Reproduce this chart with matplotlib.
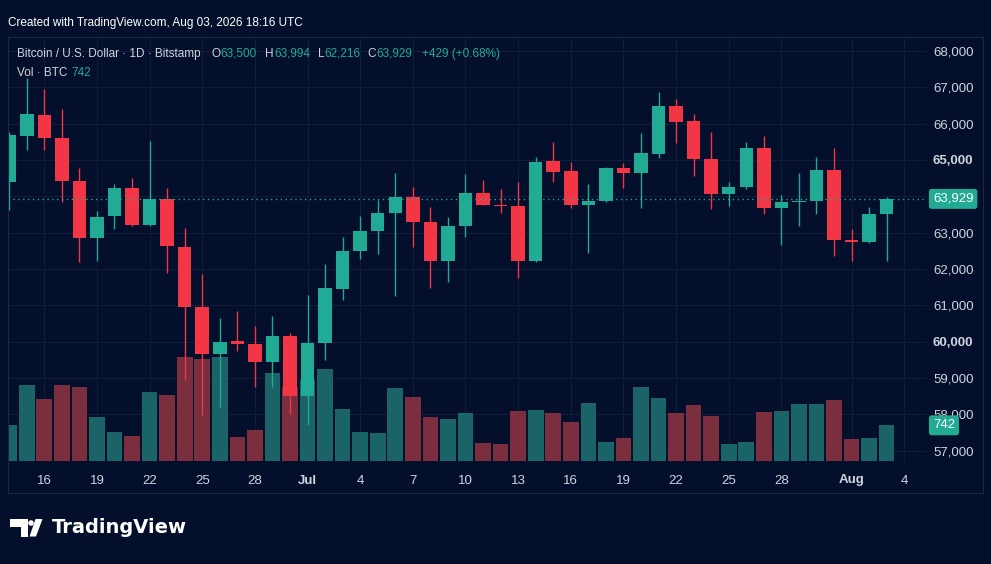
import matplotlib.pyplot as plt
import matplotlib.patches as mpatches
import matplotlib.transforms as mtransforms
import numpy as np
import pandas as pd

# daily candles, Jun 14 - Aug 3 2026
dates = pd.date_range('2026-06-14', '2026-08-03', freq='D')
opens = [64400, 65670, 66250, 65600, 64430, 62840, 63450, 64230, 63210, 63930,
         62610, 60950, 59660, 60020, 59930, 59430, 60160, 58500, 59950, 61460,
         62500, 63050, 63550, 63970, 63280, 62220, 63170, 64090, 63750, 63730,
         62220, 64970, 64700, 63770, 63860, 64770, 64650, 65160, 66490, 66070,
         65020, 64050, 64260, 65320, 63690, 63830, 63870, 64720, 62800, 62730,
         63500]
highs = [65780, 67250, 66950, 66390, 64770, 63600, 64340, 64500, 65530, 64220,
         63120, 61860, 60640, 60850, 60440, 60710, 60230, 61280, 62140, 62890,
         63460, 63900, 64630, 64250, 63710, 63440, 64610, 64450, 64210, 64390,
         65070, 65500, 64940, 64340, 64800, 64910, 65730, 66860, 66670, 66260,
         65770, 64390, 65490, 65660, 64040, 64630, 65070, 65320, 63090, 63710,
         63994]
lows = [63620, 65270, 65270, 63850, 62180, 62230, 63100, 63170, 63190, 61880,
        58950, 57980, 58210, 59740, 58760, 58760, 58010, 57710, 59500, 61150,
        62280, 62410, 61260, 62600, 61490, 61650, 62870, 63760, 63550, 61740,
        62190, 64390, 63670, 62450, 63830, 64240, 63690, 65060, 65460, 64560,
        63650, 63740, 64200, 63500, 62660, 63170, 63500, 62360, 62210, 62720,
        62216]
closes = [65690, 66270, 65600, 64420, 62840, 63440, 64240, 63210, 63930, 62630,
          60960, 59660, 60000, 59930, 59430, 60160, 58500, 59950, 61470, 62500,
          63050, 63550, 63970, 63280, 62220, 63170, 64090, 63760, 63720, 62220,
          64940, 64660, 63760, 63880, 64770, 64650, 65180, 66490, 66050, 65020,
          64050, 64270, 65320, 63690, 63830, 63870, 64720, 62790, 62730, 63500,
          63929]
volumes = [748, 1580, 1283, 1580, 1546, 922, 596, 527, 1435, 1366,
           2163, 2115, 2156, 499, 645, 1824, 1546, 1685, 1907, 1075,
           596, 575, 1511, 1338, 915, 867, 998, 374, 347, 1040,
           1054, 1005, 804, 1199, 388, 478, 1532, 1317, 1005, 1165,
           943, 354, 388, 1012, 1040, 1186, 1186, 1262, 458, 485, 742]

price_ticks = list(range(57000, 68001, 1000))
bold_prices = [60000, 65000]
tick_dates = ['2026-06-16', '2026-06-19', '2026-06-22', '2026-06-25', '2026-06-28',
              '2026-07-01', '2026-07-04', '2026-07-07', '2026-07-10', '2026-07-13',
              '2026-07-16', '2026-07-19', '2026-07-22', '2026-07-25', '2026-07-28',
              '2026-08-01', '2026-08-04']
tick_labels = ['16', '19', '22', '25', '28', 'Jul', '4', '7', '10', '13',
               '16', '19', '22', '25', '28', 'Aug', '4']

BG = '#040f2b'
GRID = '#111d3a'
BORDER = '#1b2744'
TXT = '#d1d4dc'
UP = '#22ab94'
DOWN = '#f23645'
UP_VOL = '#1a6468'
DOWN_VOL = '#7a2e3e'

plt.rcParams['font.family'] = ['Liberation Sans', 'DejaVu Sans']

W, H = 991, 564
fig = plt.figure(figsize=(W / 100, H / 100), dpi=100, facecolor=BG)


def fx(px):
    return px / W


def fy(py):
    return 1 - py / H


rect = [fx(8), fy(462), fx(926) - fx(8), fy(37) - fy(462)]
ax = fig.add_axes(rect)
ax.set_facecolor(BG)
ax_v = ax.twinx()
ax_v.axis('off')
ax_c = fig.add_axes(rect, sharex=ax, sharey=ax)
ax_c.axis('off')

idx = np.arange(len(dates))
o = np.array(opens)
c = np.array(closes)
up = c >= o

# volume
vol_colors = [UP_VOL if u else DOWN_VOL for u in up]
ax_v.bar(idx, volumes, width=0.89, color=vol_colors)
ax_v.set_ylim(-21, 8819)

# candles
colors = [UP if u else DOWN for u in up]
ax_c.vlines(idx, lows, highs, colors=colors, lw=1.0)
body = np.maximum(np.abs(c - o), 30)
ax_c.bar(idx, body, bottom=np.minimum(o, c), width=0.77, color=colors)

ax.set_xlim(-0.068, 52.24)
ax.set_ylim(56689, 68384)

# axes / grid
tick_pos = [(pd.Timestamp(d) - dates[0]).days for d in tick_dates]
ax.set_xticks(tick_pos, tick_labels)
ax.set_yticks(price_ticks, [f'{p:,}' for p in price_ticks])
ax.yaxis.tick_right()
ax.tick_params(axis='both', length=0, colors=TXT, labelsize=9.5)
ax.tick_params(axis='x', pad=9)
ax.tick_params(axis='y', pad=5)
for lbl in ax.get_xticklabels():
    if lbl.get_text() in ('Jul', 'Aug'):
        lbl.set_fontweight('bold')
for lbl, p in zip(ax.get_yticklabels(), price_ticks):
    if p in bold_prices:
        lbl.set_fontweight('bold')
ax.grid(True, color=GRID, lw=0.8)
for s in ax.spines.values():
    s.set_visible(False)

# last price line and labels
last = closes[-1]
ax_c.axhline(last, color=UP, lw=1.0, ls=(0, (1, 2.5)))
tr = mtransforms.blended_transform_factory(ax_c.transAxes, ax_c.transData)
ax_c.text(1.0075, last, f'{last:,}', transform=tr, color='white', fontsize=9.5,
          va='center', ha='left', clip_on=False,
          bbox=dict(boxstyle='round,pad=0.3,rounding_size=0.2', fc=UP, ec='none'))
trv = mtransforms.blended_transform_factory(ax_v.transAxes, ax_v.transData)
ax_v.text(1.0075, volumes[-1], f'{volumes[-1]:,}', transform=trv, color='white',
          fontsize=9.5, va='center', ha='left', clip_on=False,
          bbox=dict(boxstyle='round,pad=0.3,rounding_size=0.2', fc=UP, ec='none'))

# panel border
fig.add_artist(mpatches.Rectangle((fx(8), fy(493)), fx(983) - fx(8), fy(37) - fy(493),
                                  transform=fig.transFigure, fill=False,
                                  ec=BORDER, lw=0.8))

# header texts
fig.text(fx(8), fy(23), 'Created with TradingView.com, Aug 03, 2026 18:16 UTC',
         color='white', fontsize=8.5, va='center', ha='left')

chg = closes[-1] - closes[-2]
pct = chg / closes[-2] * 100
legend_parts = [
    (16.7, 'Bitcoin / U.S. Dollar · 1D · Bitstamp', TXT),
    (211, 'O', TXT), (220.7, f'{opens[-1]:,}', UP),
    (265, 'H', TXT), (274, f'{highs[-1]:,}', UP),
    (318.3, 'L', TXT), (324.3, f'{lows[-1]:,}', UP),
    (367.7, 'C', TXT), (376.7, f'{closes[-1]:,}', UP),
    (421.7, f'{chg:+,} ({pct:+.2f}%)', UP),
]
for x, t, col in legend_parts:
    fig.text(fx(x), fy(54), t, color=col, fontsize=8.5, va='center', ha='left')
fig.text(fx(16.7), fy(73), 'Vol · BTC', color=TXT, fontsize=8.5, va='center', ha='left')
fig.text(fx(71), fy(73), f'{volumes[-1]:,}', color=UP, fontsize=8.5, va='center', ha='left')

# TradingView logo
logo = fig.add_axes([fx(8), fy(540), fx(46) - fx(8), fy(515) - fy(540)])
logo.set_xlim(8, 46)
logo.set_ylim(540, 515)
logo.axis('off')
logo.add_patch(mpatches.Polygon([(10, 519), (28, 519), (28, 536.5), (20.5, 536.5),
                                 (20.5, 526.5), (10, 526.5)], closed=True,
                                fc='white', ec='none'))
logo.add_patch(mpatches.Circle((31, 523), 2.8, fc='white', ec='none'))
logo.add_patch(mpatches.Polygon([(35.5, 519), (42.5, 519), (36, 536.5), (29.5, 536.5)],
                                closed=True, fc='white', ec='none'))
fig.text(fx(51.7), fy(533), 'TradingView', color='white', fontsize=14,
         fontweight='bold', family=['DejaVu Sans'], va='baseline', ha='left')

fig.savefig('out.png', dpi=100, facecolor=BG)
